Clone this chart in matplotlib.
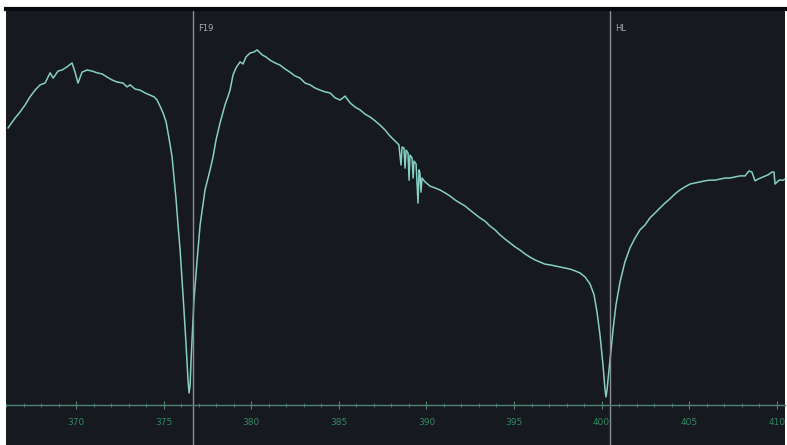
import matplotlib.pyplot as plt
from matplotlib.ticker import MultipleLocator
import matplotlib.transforms as mtransforms

# 波长 (nm) 与相对强度
wavelength = [
    366.12, 366.23, 366.52, 366.80, 367.09, 367.37, 367.66, 367.95, 368.23, 368.52,
    368.69, 368.97, 369.20, 369.49, 369.77, 369.94, 370.11, 370.34, 370.63, 370.91,
    371.20, 371.48, 371.77, 372.05, 372.34, 372.68, 372.91, 373.08, 373.37, 373.65,
    373.94, 374.22, 374.45, 374.62, 374.79, 374.97, 375.14, 375.25, 375.37, 375.48,
    375.59, 375.71, 375.82, 375.94, 376.05, 376.16, 376.28, 376.39, 376.45, 376.51,
    376.56, 376.62, 376.73, 376.91, 377.08, 377.36, 377.65, 377.82, 377.99, 378.22,
    378.50, 378.68, 378.79, 378.96, 379.13, 379.36, 379.53, 379.70, 379.93, 380.16,
    380.33, 380.62, 380.84, 381.07, 381.36, 381.64, 381.93, 382.21, 382.50, 382.79,
    383.07, 383.36, 383.64, 383.93, 384.21, 384.50, 384.79, 385.07, 385.36, 385.64,
    385.93, 386.21, 386.50, 386.78, 387.07, 387.35, 387.64, 387.92, 388.21, 388.43,
    388.55, 388.61, 388.72, 388.78, 388.84, 388.95, 389.01, 389.06, 389.18, 389.24,
    389.29, 389.41, 389.52, 389.58, 389.63, 389.69, 389.75, 389.92, 390.21, 390.49,
    390.78, 391.06, 391.35, 391.63, 391.92, 392.20, 392.49, 392.77, 393.06, 393.34,
    393.63, 393.92, 394.20, 394.49, 394.77, 395.06, 395.34, 395.63, 395.91, 396.20,
    396.48, 396.77, 397.05, 397.34, 397.63, 397.91, 398.20, 398.48, 398.77, 399.05,
    399.34, 399.57, 399.74, 399.91, 400.08, 400.20, 400.25, 400.31, 400.42, 400.54,
    400.65, 400.82, 401.05, 401.33, 401.62, 401.91, 402.19, 402.48, 402.76, 403.05,
    403.33, 403.62, 403.90, 404.19, 404.47, 404.76, 405.05, 405.33, 405.62, 405.90,
    406.19, 406.48, 406.76, 407.05, 407.33, 407.62, 407.90, 408.19, 408.41, 408.58,
    408.76, 408.93, 409.21, 409.50, 409.73, 409.84, 409.90, 410.13, 410.36, 410.58,
]
intensity = [
    78.5, 79.3, 81.3, 83.0, 85.0, 87.3, 89.2, 90.7, 91.2, 94.1,
    92.6, 94.6, 94.9, 95.8, 96.9, 94.3, 91.2, 94.3, 94.9, 94.6,
    94.1, 93.8, 92.9, 92.1, 91.5, 91.2, 90.1, 90.7, 89.5, 89.2,
    88.4, 87.8, 87.3, 86.4, 84.7, 82.7, 80.2, 77.1, 73.7, 70.3,
    64.3, 58.1, 51.0, 43.9, 35.4, 26.9, 17.0, 7.1, 3.4, 5.7,
    12.2, 18.4, 29.7, 41.1, 51.0, 60.9, 66.6, 70.3, 75.1, 79.9,
    85.0, 87.5, 89.2, 93.5, 95.5, 97.2, 96.6, 98.6, 99.7, 100.0,
    100.6, 99.2, 98.6, 97.7, 96.9, 96.3, 95.2, 94.3, 93.2, 92.6,
    91.2, 90.7, 89.8, 89.2, 88.7, 88.4, 87.0, 86.4, 87.5, 85.6,
    84.4, 83.6, 82.4, 81.6, 80.5, 79.3, 77.9, 76.2, 74.8, 73.7,
    68.0, 73.1, 72.8, 67.1, 72.2, 71.4, 63.7, 70.8, 70.0, 64.3,
    69.1, 68.3, 57.2, 66.6, 65.7, 60.3, 64.3, 63.2, 62.0, 61.5,
    60.9, 60.1, 59.2, 58.1, 57.2, 56.4, 55.2, 54.1, 53.0, 52.1,
    50.7, 49.6, 48.2, 47.0, 45.9, 44.8, 43.9, 42.8, 41.9, 41.1,
    40.5, 39.9, 39.7, 39.4, 39.1, 38.8, 38.5, 38.0, 37.4, 36.3,
    34.3, 31.2, 26.3, 19.8, 11.3, 4.2, 2.3, 4.2, 9.9, 15.6,
    21.2, 28.3, 34.8, 40.5, 44.5, 47.3, 49.6, 51.0, 53.0, 54.4,
    55.8, 57.2, 58.4, 59.8, 60.9, 61.8, 62.6, 62.9, 63.2, 63.5,
    63.7, 63.7, 64.0, 64.3, 64.3, 64.6, 64.9, 64.9, 66.3, 66.0,
    63.5, 64.0, 64.6, 65.2, 66.0, 66.0, 62.6, 63.7, 63.7, 64.3,
]

# 标记谱线
marker_pos = [376.66, 400.48]
marker_names = ["F19", "HL"]

major_ticks = [370, 375, 380, 385, 390, 395, 400, 405, 410]

bg = "#16191e"

fig = plt.figure(figsize=(7.87, 4.45), dpi=100, facecolor="white")
ax = fig.add_axes([6 / 787, 0, 779 / 787, 436 / 445])
ax.set_facecolor(bg)

ax.plot(wavelength, intensity, color="#86cfc2", lw=1.1)

trans = mtransforms.blended_transform_factory(ax.transData, ax.transAxes)
for pos, name in zip(marker_pos, marker_names):
    ax.axvline(pos, color="#8b9096", lw=1.0)
    ax.annotate(name, xy=(pos, 0.955), xycoords=trans, xytext=(4, 0),
                textcoords="offset points", color="#a9adb2", fontsize=6,
                va="center", ha="left")

ax.set_xlim(366.0, 410.47)
ax.set_ylim(-11.33, 112.18)

# 横轴画在 y=0 处
for s in ["left", "right"]:
    ax.spines[s].set_visible(False)
ax.spines["top"].set_color("#07090c")
ax.spines["top"].set_linewidth(3)
ax.spines["bottom"].set_position(("data", 0))
ax.spines["bottom"].set_color("#4f8474")
ax.spines["bottom"].set_linewidth(1.0)

ax.set_xticks(major_ticks)
ax.set_xticklabels([str(t) for t in major_ticks])
ax.xaxis.set_minor_locator(MultipleLocator(1))
ax.tick_params(axis="x", which="major", direction="inout", length=6,
               color="#4f8474", labelcolor="#2f8a62", labelsize=6.5, pad=6)
ax.tick_params(axis="x", which="minor", direction="inout", length=3,
               color="#4f8474")
ax.set_yticks([])

fig.savefig("out.png", dpi=100, facecolor="white")
